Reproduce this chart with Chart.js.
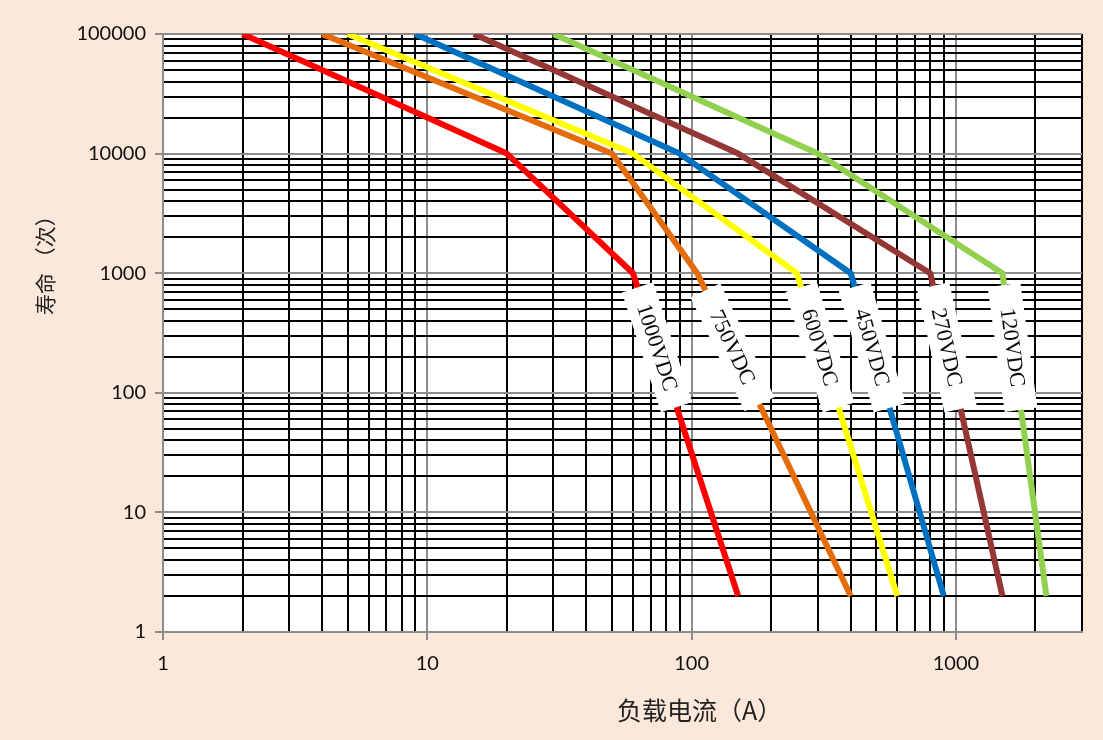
<!DOCTYPE html>
<html>
<head>
<meta charset="utf-8">
<script src="https://cdn.jsdelivr.net/npm/chart.js@4/dist/chart.umd.min.js"></script>
<style>
  html, body { margin: 0; padding: 0; background: #FCE8DA; }
  #wrap { width: 1103px; height: 740px; }
  canvas { display: block; }
</style>
</head>
<body>
<div id="wrap"><canvas id="lifeChart" width="1103" height="740"></canvas></div>
<script>
// Switching life (cycles) against load current (A) for each DC voltage rating
const voltages = ['1000VDC', '750VDC', '600VDC', '450VDC', '270VDC', '120VDC'];
const lifeCycles = [100000, 10000, 1000, 2];
const current1000 = [2, 20, 60, 150];
const current750 = [4, 50, 105, 400];
const current600 = [5, 60, 250, 600];
const current450 = [9, 90, 400, 900];
const current270 = [15, 150, 800, 1500];
const current120 = [30, 300, 1500, 2200];
const lineColors = ['#FF0000', '#E46C0A', '#FFFF00', '#0070C0', '#953735', '#92D050'];

// Log axes: labelled decades plus the 2..9 sub-divisions of each decade
const xDecades = [1, 10, 100, 1000];
const yDecades = [1, 10, 100, 1000, 10000, 100000];
const minorSteps = [2, 3, 4, 5, 6, 7, 8, 9];
const xMax = 3000;
const yMax = 100000;

const xTitle = '负载电流（A）';
const yTitle = '寿命 （次）';

function buildTicks(decades, max) {
  const out = [];
  decades.forEach(d => {
    out.push(d);
    minorSteps.forEach(m => { if (d * m <= max) out.push(d * m); });
  });
  return out.filter(v => v <= max);
}
const xTickValues = buildTicks(xDecades, xMax);
const yTickValues = buildTicks(yDecades, yMax);

const MAJOR_GRID = '#8c8c8c';
const MINOR_GRID = '#000000';

function gridColor(decades) {
  return ctx => (ctx.tick && decades.includes(ctx.tick.value)) ? MAJOR_GRID : MINOR_GRID;
}
function tickMarkColor(decades) {
  return ctx => (ctx.tick && decades.includes(ctx.tick.value)) ? MAJOR_GRID : 'rgba(0,0,0,0)';
}

const currents = [current1000, current750, current600, current450, current270, current120];
const datasets = voltages.map((v, i) => ({
  label: v,
  data: currents[i].map((c, j) => ({ x: c, y: lifeCycles[j] })),
  borderColor: lineColors[i],
  backgroundColor: lineColors[i],
  borderWidth: 6,
  pointRadius: 0,
  pointHoverRadius: 0,
  tension: 0,
  fill: false,
  borderJoinStyle: 'round',
  borderCapStyle: 'butt',
  clip: 0
}));

// Page background outside the plot, white inside it
const backgroundPlugin = {
  id: 'panelBackground',
  beforeDraw(chart) {
    const { ctx, chartArea: a } = chart;
    ctx.save();
    ctx.fillStyle = '#FCE8DA';
    ctx.fillRect(0, 0, chart.width, chart.height);
    ctx.fillStyle = '#FFFFFF';
    ctx.fillRect(a.left, a.top, a.right - a.left, a.bottom - a.top);
    ctx.restore();
  }
};

// Voltage tag on the steep tail of each curve, turned along the segment
const LABEL_LIFE = 240;
const curveLabelPlugin = {
  id: 'curveLabels',
  afterDatasetsDraw(chart) {
    const ctx = chart.ctx;
    const yScale = chart.scales.y;
    chart.data.datasets.forEach((ds, i) => {
      const pts = chart.getDatasetMeta(i).data;
      const a = pts[2], b = pts[3];
      const yc = yScale.getPixelForValue(LABEL_LIFE);
      const t = (yc - a.y) / (b.y - a.y);
      const xc = a.x + t * (b.x - a.x);
      const ang = Math.atan2(b.y - a.y, b.x - a.x);
      ctx.save();
      ctx.translate(xc, yc);
      ctx.rotate(ang);
      ctx.fillStyle = '#FFFFFF';
      ctx.fillRect(-63, -16.5, 126, 33);
      ctx.fillStyle = '#0a0a0a';
      ctx.font = '22px "Liberation Serif", "Times New Roman", serif';
      ctx.textAlign = 'center';
      ctx.textBaseline = 'middle';
      ctx.fillText(ds.label, 0, 1);
      ctx.restore();
    });
  }
};

// Axis titles
const axisTitlePlugin = {
  id: 'axisTitles',
  afterDraw(chart) {
    const { ctx, chartArea: a } = chart;
    ctx.save();
    ctx.fillStyle = '#222222';
    ctx.font = '25px "Noto Sans CJK SC", sans-serif';
    ctx.textBaseline = 'middle';
    ctx.textAlign = 'left';
    ctx.fillText(xTitle, a.left + 454, a.bottom + 78);
    ctx.translate(a.left - 118, a.top + 281);
    ctx.rotate(-Math.PI / 2);
    ctx.font = '21px "Noto Sans CJK SC", sans-serif';
    ctx.fillText(yTitle, 0, 0);
    ctx.restore();
  }
};

const tickFont = { family: 'Lato', size: 20 };

new Chart(document.getElementById('lifeChart'), {
  type: 'line',
  data: { datasets },
  options: {
    responsive: false,
    animation: false,
    devicePixelRatio: 1,
    events: [],
    layout: { padding: { top: 34, right: 21, left: 0, bottom: 0 } },
    plugins: {
      legend: { display: false },
      tooltip: { enabled: false },
      title: { display: false }
    },
    scales: {
      x: {
        type: 'logarithmic',
        min: 1,
        max: xMax,
        afterBuildTicks: s => { s.ticks = xTickValues.map(v => ({ value: v })); },
        afterFit: s => { s.height = 108; },
        ticks: {
          autoSkip: false,
          maxRotation: 0,
          minRotation: 0,
          padding: 12,
          color: '#111111',
          font: tickFont,
          callback: v => xDecades.includes(v) ? String(v) : ''
        },
        grid: {
          color: gridColor(xDecades),
          lineWidth: 2,
          tickLength: 8,
          tickWidth: 2,
          tickColor: tickMarkColor(xDecades)
        },
        border: { color: MAJOR_GRID, width: 2 }
      },
      y: {
        type: 'logarithmic',
        min: 1,
        max: yMax,
        afterBuildTicks: s => { s.ticks = yTickValues.map(v => ({ value: v })); },
        afterFit: s => { s.width = 163; },
        ticks: {
          autoSkip: false,
          padding: 9,
          color: '#111111',
          font: tickFont,
          callback: v => yDecades.includes(v) ? String(v) : ''
        },
        grid: {
          color: gridColor(yDecades),
          lineWidth: 2,
          tickLength: 8,
          tickWidth: 2,
          tickColor: tickMarkColor(yDecades)
        },
        border: { color: MAJOR_GRID, width: 2 }
      }
    }
  },
  plugins: [backgroundPlugin, curveLabelPlugin, axisTitlePlugin]
});
</script>
</body>
</html>
